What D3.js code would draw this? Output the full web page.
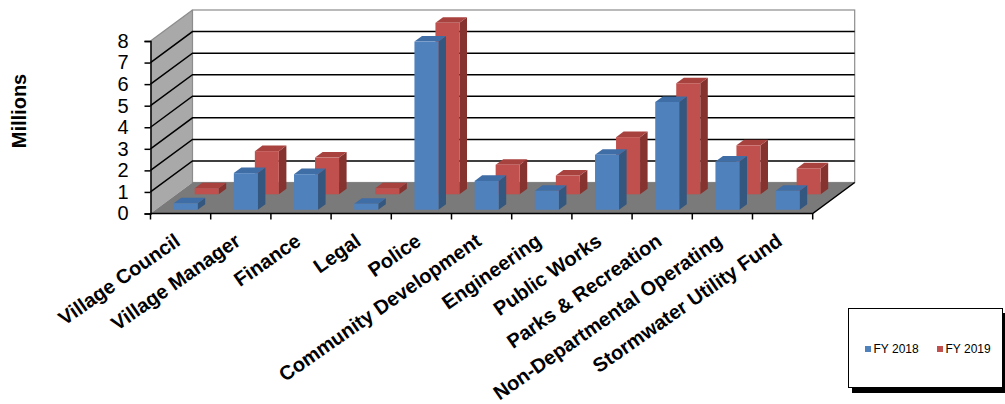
<!DOCTYPE html>
<html>
<head>
<meta charset="utf-8">
<script src="https://cdn.jsdelivr.net/npm/d3@7"></script>
<style>
    body { margin: 0; background: #fff; }
    svg { display: block; font-family: Arial, "Liberation Sans", sans-serif; }
</style>
</head>
<body>
<div id="chart"></div>
<script>
const width = 1005;
const height = 404;

// 部門名
const categories = [
    "Village Council", "Village Manager", "Finance", "Legal", "Police",
    "Community Development", "Engineering", "Public Works",
    "Parks & Recreation", "Non-Departmental Operating", "Stormwater Utility Fund"
];

// 予算 (百万)
const fy2018 = [0.30, 1.70, 1.65, 0.28, 7.80, 1.34, 0.88, 2.55, 5.00, 2.24, 0.88];
const fy2019 = [0.28, 2.00, 1.70, 0.28, 7.95, 1.37, 0.87, 2.65, 5.15, 2.27, 1.20];

const seriesNames = ["FY 2018", "FY 2019"];
const yTicks = [0, 1, 2, 3, 4, 5, 6, 7, 8];

// 3D の奥行き
const depthX = 42;
const depthY = -31;
const barWidth = 24;

const svg = d3
    .select("#chart")
    .append("svg")
    .attr("width", width)
    .attr("height", height);

const x = d3
    .scaleBand()
    .domain(categories)
    .range([150.5, 812.7])
    .padding(0);

const y = d3
    .scaleLinear()
    .domain([0, 8])
    .range([213.5, 41]);

// 奥行き方向のずれ
function off(d) {
    return [d * depthX, d * depthY];
}

const x0 = x.range()[0];
const x1 = x.range()[1];
const yBase = y(0);
const yTop = y(8);

// 左の壁
svg.append("path")
    .attr("d", `M${x0},${yBase} L${x0},${yTop} L${x0 + depthX},${yTop + depthY} L${x0 + depthX},${yBase + depthY} Z`)
    .attr("fill", "#a9a9a9");

// 奥の壁
svg.append("rect")
    .attr("x", x0 + depthX)
    .attr("y", yTop + depthY)
    .attr("width", x1 - x0)
    .attr("height", yBase - yTop)
    .attr("fill", "#fff")
    .attr("stroke", "#8c8c8c")
    .attr("stroke-width", 1.2);

// 床
svg.append("path")
    .attr("d", `M${x0},${yBase} L${x1},${yBase} L${x1 + depthX},${yBase + depthY} L${x0 + depthX},${yBase + depthY} Z`)
    .attr("fill", "#7a7a7a");

// グリッド線
yTicks.filter(v => v > 0 && v < 8).forEach(function (v) {
    svg.append("path")
        .attr("d", `M${x0},${y(v)} L${x0 + depthX},${y(v) + depthY} L${x1 + depthX},${y(v) + depthY}`)
        .attr("fill", "none")
        .attr("stroke", "#000")
        .attr("stroke-width", 1.5);
});

svg.append("line")
    .attr("x1", x0).attr("y1", yTop)
    .attr("x2", x0 + depthX).attr("y2", yTop + depthY)
    .attr("stroke", "#8c8c8c")
    .attr("stroke-width", 1.2);

// 床の縁
svg.append("path")
    .attr("d", `M${x0},${yBase} L${x1},${yBase} L${x1 + depthX},${yBase + depthY}`)
    .attr("fill", "none")
    .attr("stroke", "#000")
    .attr("stroke-width", 1.5);

// 棒
const series = [
    { name: seriesNames[1], values: fy2019, d0: 0.62, front: "#c0504d", top: "#a8423f", side: "#86322f" },
    { name: seriesNames[0], values: fy2018, d0: 0.12, front: "#4f81bd", top: "#3f6da5", side: "#34577f" }
];
const barDepth = 0.18;

series.forEach(function (s) {
    const g = svg.append("g");
    const a = off(s.d0);
    const b = off(s.d0 + barDepth);

    categories.forEach(function (c, i) {
        const v = s.values[i];
        const bx = x(c) + (x.bandwidth() - barWidth) / 2;
        const bx2 = bx + barWidth;
        const yv = y(v);
        const y0 = y(0);

        // 側面
        g.append("path")
            .attr("d", `M${bx2 + a[0]},${yv + a[1]} L${bx2 + b[0]},${yv + b[1]} L${bx2 + b[0]},${y0 + b[1]} L${bx2 + a[0]},${y0 + a[1]} Z`)
            .attr("fill", s.side);

        // 上面
        g.append("path")
            .attr("d", `M${bx + a[0]},${yv + a[1]} L${bx2 + a[0]},${yv + a[1]} L${bx2 + b[0]},${yv + b[1]} L${bx + b[0]},${yv + b[1]} Z`)
            .attr("fill", s.top);

        // 正面
        g.append("rect")
            .attr("x", bx + a[0])
            .attr("y", yv + a[1])
            .attr("width", barWidth)
            .attr("height", y0 - yv)
            .attr("fill", s.front);
    });
});

// Y 軸
const yAxis = svg.append("g")
    .attr("transform", `translate(${x0},0)`)
    .call(d3.axisLeft(y).tickValues(yTicks).tickSize(6).tickPadding(16));

yAxis.select(".domain")
    .attr("stroke", "#000")
    .attr("stroke-width", 1.5);
yAxis.selectAll(".tick line").attr("stroke", "#000").attr("stroke-width", 1.5);
yAxis.selectAll(".tick text")
    .attr("font-size", 20)
    .attr("font-family", "Arial, 'Liberation Sans', sans-serif")
    .attr("fill", "#000");

// X 軸の目盛り
const tickXs = categories.map(c => x(c)).concat([x1]);
svg.selectAll(".xtick")
    .data(tickXs)
    .enter()
    .append("line")
    .attr("class", "xtick")
    .attr("x1", d => d).attr("x2", d => d)
    .attr("y1", yBase).attr("y2", yBase + 6)
    .attr("stroke", "#000")
    .attr("stroke-width", 1.5);

// カテゴリのラベル
svg.selectAll(".cat")
    .data(categories)
    .enter()
    .append("text")
    .attr("class", "cat")
    .attr("transform", d => `translate(${x(d) + x.bandwidth() / 2 + 1},244) rotate(-35)`)
    .attr("text-anchor", "end")
    .attr("font-size", 20)
    .attr("font-weight", "bold")
    .text(d => d);

// 軸タイトル
svg.append("text")
    .attr("transform", "translate(21,111) rotate(-90)")
    .attr("text-anchor", "middle")
    .attr("dominant-baseline", "middle")
    .attr("font-size", 20)
    .attr("font-weight", "bold")
    .text("Millions");

// 凡例
const legend = svg.append("g");
legend.append("rect")
    .attr("x", 852).attr("y", 313)
    .attr("width", 155).attr("height", 80)
    .attr("fill", "#000");
legend.append("rect")
    .attr("x", 848.5).attr("y", 308.5)
    .attr("width", 154).attr("height", 79)
    .attr("fill", "#fff")
    .attr("stroke", "#000")
    .attr("stroke-width", 1);

const legendItems = [
    { name: seriesNames[0], color: "#4f81bd", x: 865 },
    { name: seriesNames[1], color: "#c0504d", x: 937 }
];
legendItems.forEach(function (item) {
    legend.append("rect")
        .attr("x", item.x).attr("y", 346)
        .attr("width", 6).attr("height", 6)
        .attr("fill", item.color);
    legend.append("text")
        .attr("x", item.x + 8.5).attr("y", 353)
        .attr("font-size", 12)
        .text(item.name);
});
</script>
</body>
</html>
